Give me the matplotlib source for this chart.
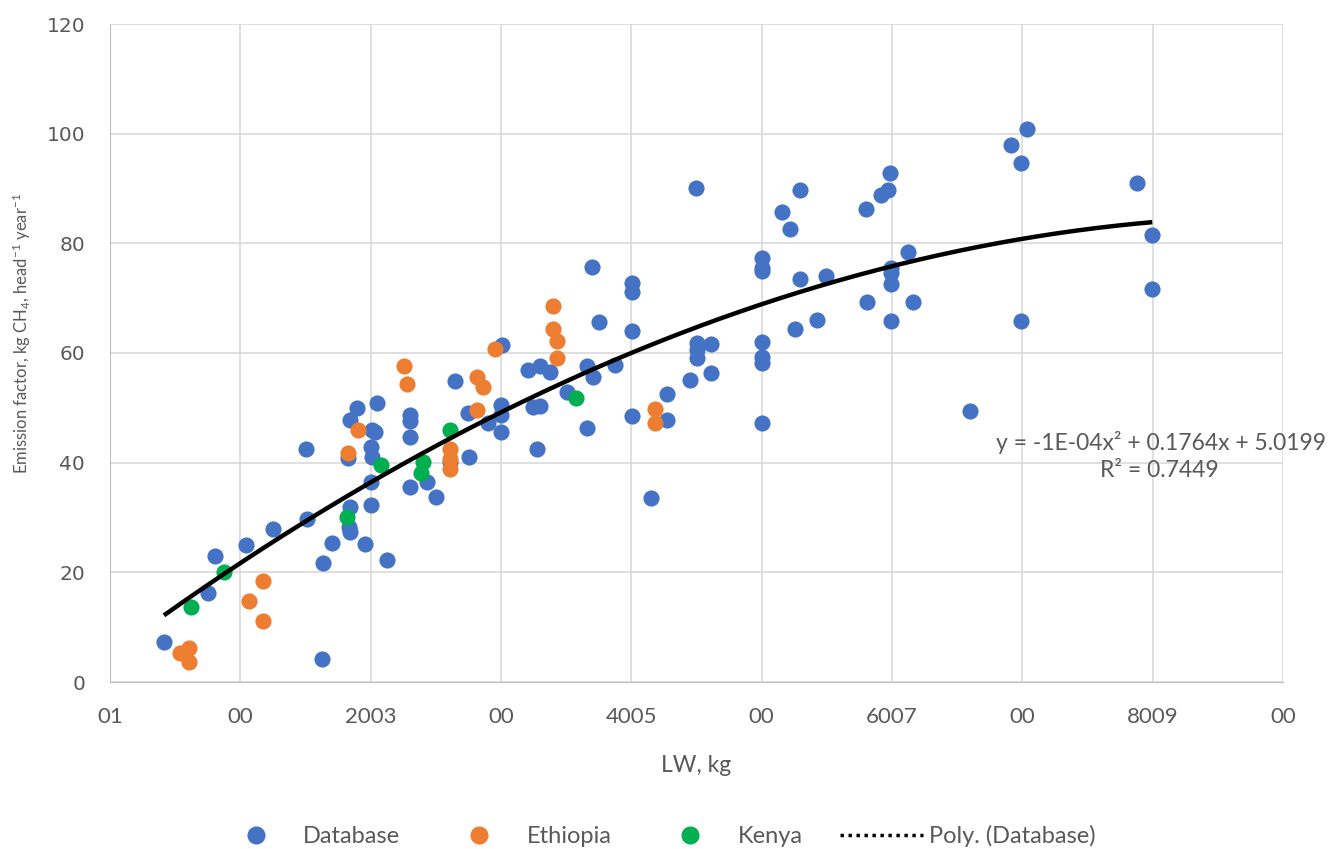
import matplotlib.pyplot as plt
from matplotlib.lines import Line2D
import numpy as np

# LW (kg) and emission factor (kg CH4/head/year) per group
db_lw = [41.4, 75.2, 80.6, 104.4, 125.1, 150.4, 151.2, 162.7, 163.5, 170.4,
         184.2, 184.2, 183.5, 182.7, 184.2, 189.6, 195.7, 200.3, 200.3, 201.1,
         200.3, 201.1, 203.4, 204.9, 212.6, 230.3, 230.3, 230.3, 230.3, 243.3,
         250.2, 261.0, 264.8, 274.8, 275.5, 290.1, 300.1, 300.1, 300.1, 300.8,
         320.8, 324.6, 330.0, 327.7, 330.0, 337.7, 350.7, 366.1, 366.1, 370.7,
         369.9, 375.3, 387.6, 400.6, 400.6, 400.6, 400.6, 415.2, 427.5, 427.5,
         445.1, 449.7, 450.5, 450.5, 450.5, 461.2, 461.2, 500.4, 500.4, 500.4,
         500.4, 500.4, 500.4, 500.4, 515.7, 521.9, 525.7, 529.6, 529.6, 542.6,
         549.5, 580.2, 581.0, 591.7, 597.1, 598.6, 599.4, 599.4, 599.4, 599.4,
         612.4, 616.3, 660.0, 691.5, 699.2, 703.8, 699.2, 788.2, 799.7, 799.7]
db_ef = [7.3, 16.2, 23.0, 25.0, 27.9, 42.5, 29.7, 4.2, 21.7, 25.4,
         31.9, 27.4, 28.2, 40.9, 47.8, 50.0, 25.2, 32.3, 36.5, 41.0,
         42.9, 46.0, 45.6, 50.9, 22.3, 35.6, 44.7, 47.6, 48.7, 36.5,
         33.7, 40.1, 54.9, 49.1, 41.0, 47.2, 45.6, 48.7, 50.5, 61.5,
         56.9, 50.2, 50.3, 42.5, 57.6, 56.5, 52.9, 57.6, 46.3, 55.6,
         75.7, 65.7, 57.8, 72.8, 71.1, 64.0, 48.5, 33.6, 52.5, 47.8,
         55.1, 90.1, 61.8, 60.6, 59.1, 56.4, 61.6, 77.3, 75.5, 75.0,
         62.0, 59.3, 58.2, 47.2, 85.7, 82.6, 64.4, 89.7, 73.5, 66.0,
         74.0, 86.3, 69.3, 88.8, 89.7, 92.8, 75.5, 74.6, 72.6, 65.8,
         78.4, 69.3, 49.4, 97.9, 94.7, 100.9, 65.8, 91.0, 81.5, 71.7]

eth_lw = [53.7, 60.6, 60.6, 106.7, 117.4, 117.4, 182.7, 190.3, 225.6, 227.9,
          261.0, 261.0, 261.0, 281.7, 281.7, 286.3, 295.5, 340.0, 340.0, 343.1,
          343.1, 418.2, 418.2]
eth_ef = [5.3, 6.2, 3.6, 14.8, 18.4, 11.1, 41.8, 46.0, 57.6, 54.4,
          42.5, 40.7, 38.9, 49.6, 55.6, 53.8, 60.7, 68.6, 64.4, 62.2,
          59.1, 49.8, 47.2]

ken_lw = [62.1, 87.4, 181.9, 208.0, 240.2, 238.6, 261.0, 357.7]
ken_ef = [13.7, 20.0, 30.1, 39.6, 40.1, 38.1, 46.0, 51.8]

# quadratic trend for the database series
poly_a = -0.0000973
poly_b = 0.1764
poly_c = 5.0199
r2 = 0.7449

x_ticks = [0, 100, 200, 300, 400, 500, 600, 700, 800, 900]
x_ticklabels = ['01', '00', '2003', '00', '4005', '00', '6007', '00', '8009', '00']
y_ticks = [0, 20, 40, 60, 80, 100, 120]

blue = '#4472C4'
orange = '#ED7D31'
green = '#00B050'
grey = '#595959'
narrow = ['Lato', 'DejaVu Sans']

plt.rcParams['mathtext.fontset'] = 'custom'
plt.rcParams['mathtext.rm'] = 'Lato'
plt.rcParams['mathtext.default'] = 'regular'

fig = plt.figure(figsize=(13.28, 8.49), dpi=100)
ax = fig.add_axes([110 / 1328, 167 / 849, 1173 / 1328, 658 / 849])

ax.scatter(db_lw, db_ef, s=135, color=blue, zorder=3, linewidths=0)
ax.scatter(eth_lw, eth_ef, s=135, color=orange, zorder=3, linewidths=0)
ax.scatter(ken_lw, ken_ef, s=135, color=green, zorder=3, linewidths=0)

z = np.linspace(min(db_lw), max(db_lw), 500)
ax.plot(z, poly_a * z ** 2 + poly_b * z + poly_c, color='black', lw=3.2, zorder=4,
        solid_capstyle='butt')

ax.set_xlim(0, 900)
ax.set_ylim(0, 120)
ax.set_xticks(x_ticks)
ax.set_xticklabels(x_ticklabels, family=narrow, fontsize=16, color=grey)
ax.set_yticks(y_ticks)
ax.set_yticklabels([str(v) for v in y_ticks], family='DejaVu Sans',
                   fontsize=14.5, color=grey)
ax.tick_params(axis='x', length=0, pad=18)
ax.tick_params(axis='y', length=0, pad=18)
ax.grid(color='#D9D9D9', lw=1.2)
ax.set_axisbelow(True)
for s in ['top', 'right']:
    ax.spines[s].set_visible(False)
for s in ['left', 'bottom']:
    ax.spines[s].set_color('#BFBFBF')

ax.set_xlabel('LW, kg', family=narrow, fontsize=16.5, color=grey, labelpad=20)
ax.set_ylabel('Emission factor, kg CH$_4$, head$^{-1}$ year$^{-1}$', family=narrow,
              fontsize=12, color=grey)
ax.yaxis.set_label_coords(-0.066, 0.53)

fig.text(1326 / 1328, 1 - 442 / 849, 'y = -1E-04x² + 0.1764x + 5.0199', ha='right',
         va='center', fontsize=16.5, color=grey, family=narrow)
fig.text(1219 / 1328, 1 - 471 / 849, f'R² = {r2}', ha='right', va='center',
         fontsize=16.5, color=grey, family=narrow)

handles = [
    Line2D([], [], ls='none', marker='o', ms=12, color=blue),
    Line2D([], [], ls='none', marker='o', ms=12, color=orange),
    Line2D([], [], ls='none', marker='o', ms=12, color=green),
    Line2D([], [], ls=(0, (1, 1.3)), lw=2.5, color='black'),
]
labels = ['Database', 'Ethiopia', 'Kenya', 'Poly. (Database)']
fig.legend(handles, labels, loc='center', bbox_to_anchor=(655 / 1328, 1 - 836 / 849),
           ncol=4, frameon=False, handlelength=3.5, handletextpad=0.25,
           columnspacing=1.6, borderpad=0, prop={'family': narrow, 'size': 17},
           labelcolor=grey)

fig.savefig('out.png', dpi=100)
